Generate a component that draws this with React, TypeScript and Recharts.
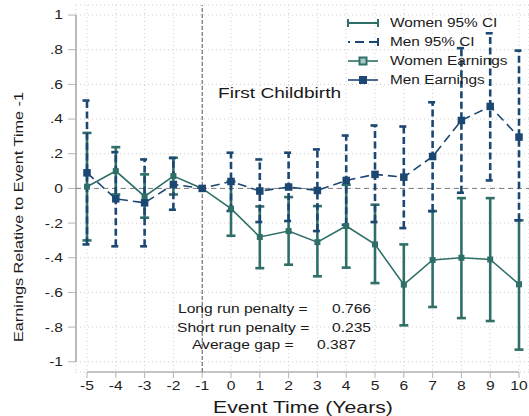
import {
  ComposedChart,
  Line,
  ErrorBar,
  XAxis,
  YAxis,
  CartesianGrid,
  ReferenceLine,
} from "recharts";

const TEAL = "#2f6f68";
const NAVY = "#1c4773";
const AXIS = "#b3b3b3";
const FONT = "'Liberation Sans', Arial, sans-serif";
const STRETCH = 1.25;

// event time (years)
const years = [-5, -4, -3, -2, -1, 0, 1, 2, 3, 4, 5, 6, 7, 8, 9, 10];

const womenEarnings = [0.01, 0.1, -0.046, 0.071, 0, -0.117, -0.28, -0.246, -0.31, -0.217, -0.323, -0.555, -0.413, -0.4, -0.41, -0.553];
const womenLow = [-0.3, -0.035, -0.169, -0.035, null, -0.273, -0.46, -0.44, -0.507, -0.457, -0.546, -0.79, -0.684, -0.748, -0.765, -0.93];
const womenHigh = [0.32, 0.238, 0.081, 0.177, null, 0.04, -0.104, -0.05, -0.102, 0.021, -0.094, -0.323, -0.131, -0.056, -0.056, -0.184];

const menEarnings = [0.09, -0.06, -0.083, 0.023, 0, 0.04, -0.015, 0.008, -0.012, 0.046, 0.081, 0.065, 0.184, 0.392, 0.473, 0.296];
const menLow = [-0.323, -0.334, -0.334, -0.123, null, -0.13, -0.194, -0.188, -0.246, -0.21, -0.194, -0.229, -0.131, -0.025, 0.046, -0.184];
const menHigh = [0.507, 0.209, 0.167, 0.175, null, 0.206, 0.167, 0.206, 0.225, 0.305, 0.363, 0.357, 0.497, 0.809, 0.895, 0.795];

const xTicks = years;
const yTicks = [-1, -0.8, -0.6, -0.4, -0.2, 0, 0.2, 0.4, 0.6, 0.8, 1];

const legendItems = ["Women 95% CI", "Men 95% CI", "Women Earnings", "Men Earnings"];
const notes = [
  { label: "Long run penalty =", value: "0.766" },
  { label: "Short run penalty =", value: "0.235" },
  { label: "Average gap =", value: "0.387" },
];

const toErr = (v: number, lo: number | null, hi: number | null) =>
  lo === null || hi === null ? null : [v - lo, hi - v];

const data = years.map((t, i) => ({
  t,
  women: womenEarnings[i],
  men: menEarnings[i],
  womenErr: toErr(womenEarnings[i], womenLow[i], womenHigh[i]),
  menErr: toErr(menEarnings[i], menLow[i], menHigh[i]),
}));

const fmtY = (v: number) => {
  const s = String(Number(v.toFixed(1)));
  return s.replace("0.", ".");
};

const XTick = ({ x, y, payload }: any) => (
  <text
    transform={`translate(${x},${y + 6}) scale(${STRETCH},1)`}
    textAnchor="middle"
    dominantBaseline="central"
    fontSize={12.5}
    fontFamily={FONT}
    fill="#222"
  >
    {payload.value}
  </text>
);

const YTick = ({ x, y, payload }: any) => (
  <text
    transform={`translate(${x},${y}) scale(${STRETCH},1)`}
    textAnchor="end"
    dominantBaseline="central"
    fontSize={12.5}
    fontFamily={FONT}
    fill="#222"
  >
    {fmtY(payload.value)}
  </text>
);

const squareDot = (size: number, fill: string) => (p: any) => (
  <rect
    key={`d-${p.index}`}
    x={p.cx - size / 2}
    y={p.cy - size / 2}
    width={size}
    height={size}
    fill={fill}
  />
);

const Txt = ({ x, y, size, children, anchor = "start", rotate = 0 }: any) => (
  <text
    transform={`translate(${x},${y}) rotate(${rotate}) scale(${STRETCH},1)`}
    textAnchor={anchor}
    dominantBaseline="central"
    fontSize={size}
    fontFamily={FONT}
    fill="#1a1a1a"
  >
    {children}
  </text>
);

export default function App() {
  const legendY = [23, 42, 61, 80];
  const noteY = [309, 328, 345];
  const noteX = [178, 177, 192];
  const valX = [332, 332, 317];

  return (
    <div style={{ position: "relative", width: 529, height: 416, background: "#fff" }}>
      <style>{"body{margin:0}"}</style>
      <ComposedChart
        width={529}
        height={416}
        data={data}
        margin={{ top: 5, right: 0, bottom: 0, left: 0 }}
      >
        <CartesianGrid stroke="#cfcfcf" strokeDasharray="1 3" />
        <XAxis
          dataKey="t"
          type="number"
          domain={[-5.382, 10.347]}
          ticks={xTicks}
          allowDataOverflow
          interval={0}
          height={44}
          axisLine={false}
          tickLine={{ stroke: AXIS, strokeWidth: 1 }}
          tickSize={6}
          tickMargin={2}
          tick={<XTick />}
        />
        <YAxis
          type="number"
          domain={[-1.059, 1.058]}
          ticks={yTicks}
          allowDataOverflow
          interval={0}
          width={76}
          axisLine={false}
          tickLine={{ stroke: AXIS, strokeWidth: 1 }}
          tickSize={8}
          tickMargin={5}
          tick={<YTick />}
        />
        <ReferenceLine
          segment={[{ x: -5, y: -1.059 }, { x: 10, y: -1.059 }]}
          stroke={AXIS}
          strokeWidth={1.6}
          ifOverflow="visible"
        />
        <ReferenceLine
          segment={[{ x: -5.382, y: -1 }, { x: -5.382, y: 1 }]}
          stroke={AXIS}
          strokeWidth={1.8}
          ifOverflow="visible"
        />
        <ReferenceLine y={0} stroke="#7a7a7a" strokeDasharray="5 4" strokeWidth={1} />
        <ReferenceLine x={-1} stroke="#555" strokeDasharray="4 2" strokeWidth={1} />

        {/* confidence intervals */}
        <Line dataKey="women" stroke="none" dot={false} activeDot={false} isAnimationActive={false}>
          <ErrorBar
            dataKey="womenErr"
            direction="y"
            width={4.5}
            stroke={TEAL}
            strokeWidth={2.6}
            isAnimationActive={false}
          />
        </Line>
        <Line dataKey="men" stroke="none" dot={false} activeDot={false} isAnimationActive={false}>
          <ErrorBar
            dataKey="menErr"
            direction="y"
            width={4.5}
            stroke={NAVY}
            strokeWidth={2.6}
            strokeDasharray="7 3.5"
            isAnimationActive={false}
          />
        </Line>

        {/* point estimates */}
        <Line
          dataKey="women"
          stroke={TEAL}
          strokeWidth={1.6}
          dot={squareDot(6, TEAL)}
          activeDot={false}
          isAnimationActive={false}
          zIndex={450}
        />
        <Line
          dataKey="men"
          stroke={NAVY}
          strokeWidth={1.6}
          strokeDasharray="9 5"
          dot={squareDot(7.5, NAVY)}
          activeDot={false}
          isAnimationActive={false}
          zIndex={460}
        />
      </ComposedChart>

      <svg
        width={529}
        height={416}
        style={{ position: "absolute", left: 0, top: 0, pointerEvents: "none" }}
      >
        {/* legend */}
        <g>
          <line x1={348} x2={378} y1={legendY[0]} y2={legendY[0]} stroke={TEAL} strokeWidth={2} />
          <line x1={348} x2={348} y1={legendY[0] - 4} y2={legendY[0] + 4} stroke={TEAL} strokeWidth={2} />
          <line x1={378} x2={378} y1={legendY[0] - 4} y2={legendY[0] + 4} stroke={TEAL} strokeWidth={2} />

          <line x1={348} x2={378} y1={legendY[1]} y2={legendY[1]} stroke={NAVY} strokeWidth={2} strokeDasharray="2 5 9 5 9" />
          <line x1={378} x2={378} y1={legendY[1] - 4} y2={legendY[1] + 4} stroke={NAVY} strokeWidth={2} />

          <line x1={348} x2={378} y1={legendY[2]} y2={legendY[2]} stroke={TEAL} strokeWidth={1.6} />
          <rect x={359.5} y={legendY[2] - 3.5} width={7} height={7} fill="#a9c9c4" stroke={TEAL} strokeWidth={2} />

          <line x1={348} x2={378} y1={legendY[3]} y2={legendY[3]} stroke={NAVY} strokeWidth={1.6} />
          <rect x={359} y={legendY[3] - 4} width={8} height={8} fill={NAVY} />

          {legendItems.map((s, i) => (
            <Txt key={s} x={390} y={legendY[i]} size={12.3}>
              {s}
            </Txt>
          ))}
        </g>

        <Txt x={218} y={93} size={15.3}>
          First Childbirth
        </Txt>

        {notes.map((n, i) => (
          <g key={n.label}>
            <Txt x={noteX[i]} y={noteY[i]} size={12.5}>
              {n.label}
            </Txt>
            <Txt x={valX[i]} y={noteY[i]} size={12.5}>
              {n.value}
            </Txt>
          </g>
        ))}

        <Txt x={303} y={407} size={17} anchor="middle">
          Event Time (Years)
        </Txt>
        <Txt x={19} y={217} size={13} anchor="middle" rotate={-90}>
          Earnings Relative to Event Time -1
        </Txt>
      </svg>
    </div>
  );
}
